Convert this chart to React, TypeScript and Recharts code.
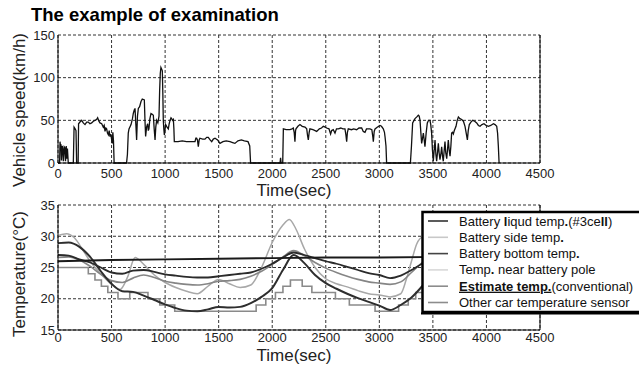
import React from 'react';
import { LineChart, Line, XAxis, YAxis, CartesianGrid, ReferenceLine } from 'recharts';

const FONT = "'Liberation Sans', Arial, Helvetica, sans-serif";

const timeTicks = [0, 500, 1000, 1500, 2000, 2500, 3000, 3500, 4000, 4500];
const speedTicks = [0, 50, 100, 150];
const tempTicks = [15, 20, 25, 30, 35];

// Vehicle speed trace [time s, km/h]
const speedTrace: [number, number][] = [
  [0, 0], [15, 0], [19, 25], [24, 19], [28, 22], [32, 3], [40, 20], [45, 16], [50, 2], [58, 19], [64, 18], [70, 2],
  [77, 20], [82, 5], [88, 17], [96, 0], [143, 0], [150, 42], [160, 40], [168, 38], [174, 0], [188, 0], [192, 46],
  [205, 48], [221, 50], [236, 47], [252, 45], [268, 48], [283, 48], [298, 46], [314, 47], [330, 49], [345, 50],
  [360, 51], [370, 53], [382, 49], [392, 47], [408, 46], [423, 42], [431, 44], [439, 37], [447, 41], [454, 40],
  [462, 35], [470, 33], [478, 38], [485, 31], [493, 34], [500, 28], [507, 23], [512, 36], [518, 26], [524, 0],
  [640, 0], [648, 10], [656, 35], [663, 40], [682, 45], [695, 52], [703, 58], [712, 62], [719, 64], [727, 45],
  [734, 27], [742, 55], [750, 64], [762, 66], [775, 72], [787, 75], [806, 74], [812, 50], [818, 31], [827, 42],
  [837, 46], [843, 38], [849, 40], [858, 52], [868, 58], [880, 57], [890, 56], [898, 40], [906, 27], [913, 42],
  [921, 50], [932, 47], [943, 55], [949, 85], [955, 105], [961, 112], [968, 110], [974, 108], [979, 80], [983, 50],
  [988, 40], [993, 33], [1000, 40], [1005, 45], [1018, 42], [1030, 40], [1038, 46], [1046, 50], [1055, 53],
  [1061, 52], [1070, 50], [1077, 51], [1082, 40], [1086, 25], [1120, 25], [1160, 26], [1200, 25], [1240, 25],
  [1279, 25], [1287, 29], [1294, 29], [1302, 27], [1310, 19], [1318, 27], [1325, 29], [1350, 28], [1372, 28],
  [1388, 30], [1403, 30], [1420, 27], [1435, 25], [1450, 28], [1466, 29], [1490, 27], [1512, 23], [1540, 25],
  [1570, 26], [1606, 25], [1630, 24], [1652, 23], [1680, 26], [1712, 27], [1740, 26], [1774, 25], [1790, 20],
  [1798, 0], [2073, 0], [2078, 6], [2083, 0], [2098, 0], [2104, 40], [2130, 39], [2166, 39], [2185, 40],
  [2197, 41], [2205, 36], [2212, 25], [2218, 38], [2222, 40], [2240, 43], [2259, 45], [2280, 43], [2306, 42],
  [2322, 40], [2330, 32], [2337, 27], [2345, 36], [2352, 40], [2380, 39], [2400, 38], [2415, 37], [2440, 40],
  [2460, 41], [2477, 43], [2495, 42], [2508, 41], [2530, 40], [2545, 34], [2555, 38], [2570, 39], [2586, 35],
  [2600, 40], [2617, 40], [2640, 41], [2660, 40], [2679, 40], [2688, 33], [2695, 25], [2702, 36], [2710, 40],
  [2740, 39], [2760, 40], [2788, 39], [2810, 41], [2835, 41], [2850, 37], [2866, 36], [2880, 40], [2913, 40],
  [2930, 39], [2940, 30], [2944, 25], [2952, 37], [2960, 40], [2980, 42], [3006, 44], [3020, 43], [3037, 40],
  [3048, 36], [3053, 31], [3062, 20], [3068, 0], [3290, 0], [3300, 20], [3311, 47], [3333, 52], [3350, 54],
  [3364, 56], [3372, 55], [3380, 50], [3388, 35], [3395, 23], [3402, 28], [3411, 35], [3418, 28], [3426, 19],
  [3437, 35], [3448, 47], [3460, 50], [3473, 50], [3480, 45], [3488, 35], [3496, 15], [3504, 2], [3512, 15],
  [3520, 27], [3528, 10], [3535, 2], [3543, 12], [3551, 23], [3558, 12], [3566, 4], [3574, 10], [3582, 19],
  [3590, 8], [3597, 2], [3605, 14], [3613, 25], [3620, 12], [3629, 5], [3636, 15], [3644, 27], [3652, 15],
  [3660, 8], [3668, 20], [3675, 35], [3683, 36], [3691, 34], [3700, 38], [3716, 43], [3727, 50], [3738, 54],
  [3752, 52], [3769, 51], [3785, 49], [3800, 43], [3811, 35], [3822, 27], [3830, 38], [3840, 45], [3855, 48],
  [3871, 50], [3890, 49], [3909, 47], [3925, 44], [3940, 43], [3958, 45], [3977, 46], [3997, 44], [4018, 43],
  [4040, 44], [4065, 46], [4080, 45], [4096, 43], [4104, 35], [4111, 20], [4118, 0],
];

// Temperature series [time s, °C]
const liquidTemp: [number, number][] = [
  [0, 26.0], [500, 26.2], [1000, 26.3], [1500, 26.4], [2000, 26.5], [2500, 26.6], [3000, 26.6], [3600, 26.7],
];

const sideTemp: [number, number][] = [
  [0, 30.1], [80, 30.4], [150, 29.8], [250, 27.3], [300, 26.0], [400, 24.0], [500, 22.3], [580, 21.5],
  [650, 23.5], [720, 26.6], [800, 25.5], [900, 23.8], [1000, 22.6], [1100, 21.8], [1200, 21.2], [1300, 20.8],
  [1400, 22.0], [1500, 23.1], [1600, 22.4], [1700, 21.8], [1800, 22.2], [1900, 25.0], [2000, 29.0], [2100, 31.8],
  [2160, 32.7], [2220, 31.2], [2300, 28.0], [2400, 25.0], [2500, 23.2], [2600, 22.4], [2700, 21.9], [2800, 21.3],
  [2900, 20.8], [3000, 20.6], [3100, 20.3], [3200, 20.8], [3250, 23.0], [3300, 26.0], [3350, 28.8], [3400, 29.8],
  [3500, 29.5],
];

const bottomTemp: [number, number][] = [
  [0, 27.0], [100, 26.9], [200, 26.3], [300, 25.8], [400, 25.0], [500, 24.2], [600, 24.0], [700, 24.5],
  [800, 24.6], [900, 24.3], [1000, 23.9], [1100, 23.7], [1200, 23.5], [1300, 23.4], [1400, 23.4], [1500, 23.6],
  [1600, 23.8], [1700, 24.0], [1800, 24.2], [1900, 24.8], [2000, 25.6], [2100, 26.6], [2200, 27.4], [2300, 27.0],
  [2400, 26.5], [2500, 26.0], [2600, 25.6], [2700, 25.1], [2800, 24.6], [2900, 24.1], [3000, 23.8], [3100, 23.3],
  [3200, 23.7], [3300, 24.6], [3400, 25.6], [3500, 26.4], [3600, 27.0],
];

const poleTemp: [number, number][] = [
  [0, 26.6], [100, 26.7], [200, 26.2], [300, 25.2], [400, 23.9], [500, 22.9], [600, 22.6], [700, 23.3],
  [800, 23.8], [900, 23.4], [1000, 22.8], [1100, 22.5], [1200, 22.3], [1300, 22.2], [1400, 22.4], [1500, 22.8],
  [1600, 22.9], [1700, 23.1], [1800, 23.6], [1900, 24.4], [2000, 25.5], [2100, 26.7], [2200, 27.7], [2300, 26.9],
  [2400, 25.8], [2500, 24.9], [2600, 24.2], [2700, 23.6], [2800, 23.1], [2900, 22.7], [3000, 22.5], [3100, 22.3],
  [3200, 22.7], [3300, 24.2], [3400, 25.8], [3500, 27.0], [3600, 27.5],
];

const estimateTemp: [number, number][] = [
  [0, 28.9], [100, 29.0], [200, 28.3], [300, 26.7], [400, 24.4], [500, 22.4], [600, 21.2], [700, 21.1],
  [800, 20.5], [900, 19.8], [1000, 19.1], [1100, 18.5], [1200, 18.1], [1300, 18.0], [1400, 18.3], [1500, 18.7],
  [1600, 18.6], [1700, 18.7], [1800, 19.3], [1900, 20.3], [2000, 21.7], [2100, 24.6], [2200, 27.0], [2300, 25.7],
  [2400, 23.8], [2500, 22.5], [2600, 21.6], [2700, 20.8], [2800, 20.1], [2900, 19.5], [3000, 18.9], [3100, 18.2],
  [3200, 19.0], [3300, 20.2], [3400, 22.0], [3500, 24.0], [3600, 25.5],
];

const otherCarTemp: [number, number][] = [
  [0, 25], [283, 24], [345, 23], [405, 22], [465, 21], [560, 20], [670, 21], [840, 20], [950, 19], [1090, 18],
  [1850, 19], [1940, 20], [2030, 21], [2100, 22], [2170, 23], [2280, 22], [2370, 21], [2590, 20], [2720, 19],
  [2960, 18], [3180, 19], [3270, 20], [3340, 21], [3410, 22], [3500, 23],
];

const legendLabels = [
  'Battery liqud temp.(#3cell)',
  'Battery side temp.',
  'Battery bottom temp.',
  'Temp. near battery pole',
  'Estimate temp.(conventional)',
  'Other car temperature sensor',
];
const legendColors = ['#333', '#c8c8c8', '#444', '#d8d8d8', '#8c8c8c', '#8c8c8c'];

const toPoints = (arr: [number, number][]) => arr.map(([t, v]) => ({ t, v }));

const tickStyle = { fontSize: 13, fill: '#222', fontFamily: FONT };
const gridProps = { stroke: '#333', strokeDasharray: '3 2', strokeWidth: 1 };

function legendText(i: number) {
  switch (i) {
    case 0:
      return (<>Battery <tspan fontWeight="bold">l</tspan>iqud temp<tspan fontWeight="bold">.</tspan>(#3ce<tspan fontWeight="bold">ll</tspan>)</>);
    case 1:
      return (<>Battery side temp<tspan fontWeight="bold">.</tspan></>);
    case 2:
      return (<>Battery bottom temp<tspan fontWeight="bold">.</tspan></>);
    case 3:
      return (<>Temp<tspan fontWeight="bold">.</tspan> near battery pole</>);
    case 4:
      return (<><tspan fontWeight="bold" style={{ textDecoration: 'underline' }}>Estimate temp.</tspan>(conventional)</>);
    default:
      return legendLabels[i];
  }
}

export default function App() {
  return (
    <div style={{ position: 'absolute', left: 0, top: 0, width: 639, height: 368, overflow: 'hidden', background: '#fff' }}>
      <div style={{ position: 'absolute', left: 0, top: 0 }}>
        <LineChart width={639} height={200} margin={{ top: 35, right: 99, bottom: 7, left: 18 }}>
          <CartesianGrid {...gridProps} />
          <XAxis dataKey="t" type="number" domain={[0, 4500]} ticks={timeTicks} height={30}
            tickLine={false} tickSize={0} tickMargin={6} axisLine={{ stroke: '#000' }} tick={tickStyle} interval={0} />
          <YAxis type="number" domain={[0, 150]} ticks={speedTicks} width={40}
            tickLine={false} tickSize={0} tickMargin={3} axisLine={{ stroke: '#000' }} tick={tickStyle} interval={0} />
          <ReferenceLine x={4500} stroke="#000" strokeWidth={1} />
          <Line data={toPoints(speedTrace)} dataKey="v" type="linear" stroke="#111" strokeWidth={1.3}
            dot={false} activeDot={false} isAnimationActive={false} />
        </LineChart>
      </div>
      <div style={{ position: 'absolute', left: 0, top: 0 }}>
        <LineChart width={639} height={368} margin={{ top: 205, right: 99, bottom: 8, left: 18 }}>
          <CartesianGrid {...gridProps} />
          <XAxis dataKey="t" type="number" domain={[0, 4500]} ticks={timeTicks} height={30}
            tickLine={false} tickSize={0} tickMargin={3} axisLine={{ stroke: '#000' }} tick={tickStyle} interval={0} />
          <YAxis type="number" domain={[15, 35]} ticks={tempTicks} width={40}
            tickLine={false} tickSize={0} tickMargin={3} axisLine={{ stroke: '#000' }} tick={tickStyle} interval={0} />
          <ReferenceLine x={4500} stroke="#000" strokeWidth={1} />
          <Line data={toPoints(otherCarTemp)} dataKey="v" type="stepAfter" stroke="#8a8a8a" strokeWidth={1.6}
            dot={false} activeDot={false} isAnimationActive={false} />
          <Line data={toPoints(sideTemp)} dataKey="v" type="monotone" stroke="#a8a8a8" strokeWidth={1.5}
            dot={false} activeDot={false} isAnimationActive={false} />
          <Line data={toPoints(poleTemp)} dataKey="v" type="monotone" stroke="#858585" strokeWidth={1.6}
            dot={false} activeDot={false} isAnimationActive={false} />
          <Line data={toPoints(bottomTemp)} dataKey="v" type="monotone" stroke="#2b2b2b" strokeWidth={1.8}
            dot={false} activeDot={false} isAnimationActive={false} />
          <Line data={toPoints(estimateTemp)} dataKey="v" type="monotone" stroke="#2e2e2e" strokeWidth={2}
            dot={false} activeDot={false} isAnimationActive={false} />
          <Line data={toPoints(liquidTemp)} dataKey="v" type="linear" stroke="#1a1a1a" strokeWidth={2}
            dot={false} activeDot={false} isAnimationActive={false} />
        </LineChart>
      </div>
      <svg width={639} height={368} style={{ position: 'absolute', left: 0, top: 0 }} fontFamily={FONT}>
        <text x={31} y={21} fontSize={18.5} fontWeight="bold" fill="#000">The example of examination</text>
        <text transform="translate(24.5,110) rotate(-90)" textAnchor="middle" fontSize={17} fill="#222">Vehicle speed(km/h)</text>
        <text transform="translate(24.5,274) rotate(-90)" textAnchor="middle" fontSize={17} fill="#222">Temperature(°C)</text>
        <text x={294} y={196} textAnchor="middle" fontSize={17} fill="#222">Time(sec)</text>
        <text x={294} y={361} textAnchor="middle" fontSize={17} fill="#222">Time(sec)</text>
        <rect x={422.5} y={212} width={240} height={100} fill="#fff" stroke="#000" strokeWidth={2.5} />
        <line x1={421} y1={313.5} x2={639} y2={313.5} stroke="#000" strokeWidth={2} />
        {legendLabels.map((lab, i) => {
          const base = 225.5 + i * 16.3;
          return (
            <g key={lab}>
              <line x1={428} x2={448} y1={base - 4.5} y2={base - 4.5} stroke={legendColors[i]} strokeWidth={1.6} />
              <text x={459} y={base} fontSize={13} fill="#111">{legendText(i)}</text>
            </g>
          );
        })}
      </svg>
    </div>
  );
}
